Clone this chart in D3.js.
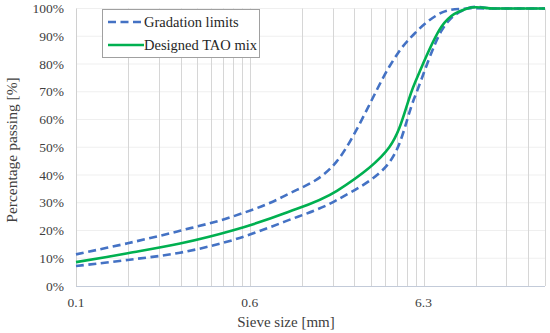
<!DOCTYPE html>
<html>
<head>
<meta charset="utf-8">
<script src="https://cdn.jsdelivr.net/npm/d3@7"></script>
<style>
  body { margin: 0; background: #fff; }
</style>
</head>
<body>
<div id="chart"></div>
<script>
// sieve sizes [mm] and passing [%]
const sieves = [0.063, 0.125, 0.25, 0.5, 1, 2, 4, 5.6, 8, 11.2, 16, 22.4, 31.5];
const upperLimit = [11.4, 15.4, 19.9, 25, 32.5, 45, 79, 91, 98.5, 100, 100, 100, 100];
const lowerLimit = [7.2, 9.4, 12, 16.5, 23.2, 31, 44.5, 68, 92, 100, 100, 100, 100];
const taoMix = [8.6, 11.8, 15.3, 20, 26.2, 34.3, 50, 73, 93.5, 100, 100, 100, 100];

const xTickValues = [0.063, 0.63, 6.3];
const xTickLabels = ["0.1", "0.6", "6.3"];
const yTicks = [0, 10, 20, 30, 40, 50, 60, 70, 80, 90, 100];

const W = 550, H = 333;
const margin = { top: 8.5, right: 5, bottom: 47, left: 76 };
const width = W - margin.left - margin.right;
const height = H - margin.top - margin.bottom;
const serif = "'Liberation Serif', 'Times New Roman', serif";

const svg = d3.select("#chart").append("svg")
  .attr("width", W)
  .attr("height", H)
  .attr("font-family", serif);

const g = svg.append("g")
  .attr("transform", `translate(${margin.left},${margin.top})`);

const x = d3.scaleLog()
  .domain([0.063, 31.5])
  .range([0, 469]);

const y = d3.scaleLinear()
  .domain([0, 100])
  .range([height, 0]);

// horizontal gridlines
g.append("g")
  .selectAll("line")
  .data(yTicks.slice(1))
  .enter().append("line")
  .attr("x1", 0)
  .attr("x2", x(31.5))
  .attr("y1", d => y(d))
  .attr("y2", d => y(d))
  .attr("stroke", "#efefef")
  .attr("stroke-width", 1);

// vertical gridlines (major + minor of each decade)
const gridVals = [];
xTickValues.forEach(b => {
  for (let k = 1; k <= 9; k++) {
    const v = b * k;
    if (v > 0.063 && v <= 31.51) gridVals.push(v);
  }
});

g.append("g")
  .selectAll("line")
  .data(gridVals)
  .enter().append("line")
  .attr("x1", d => Math.round(x(d)) + 0.5)
  .attr("x2", d => Math.round(x(d)) + 0.5)
  .attr("y1", 0)
  .attr("y2", height)
  .attr("stroke", "#d6d6d6")
  .attr("stroke-width", 1);

// axis lines
g.append("line")
  .attr("x1", 0.5).attr("x2", 0.5)
  .attr("y1", 0).attr("y2", height)
  .attr("stroke", "#d0d0d0");

g.append("line")
  .attr("x1", 0).attr("x2", x(31.5))
  .attr("y1", height + 0.5).attr("y2", height + 0.5)
  .attr("stroke", "#c3cbd9")
  .attr("stroke-width", 1.2);

// y tick labels
g.append("g")
  .selectAll("text")
  .data(yTicks)
  .enter().append("text")
  .attr("x", -12)
  .attr("y", d => y(d))
  .attr("dy", "0.35em")
  .attr("text-anchor", "end")
  .attr("fill", "#404040")
  .style("font-size", "13.5px")
  .text(d => d + "%");

// x tick labels
g.append("g")
  .selectAll("text")
  .data(xTickValues)
  .enter().append("text")
  .attr("x", d => x(d))
  .attr("y", height + 21)
  .attr("text-anchor", "middle")
  .attr("fill", "#404040")
  .style("font-size", "13.5px")
  .text((d, i) => xTickLabels[i]);

// curves (smoothed like the spreadsheet lines)
const line = data => d3.line()
  .x((d, i) => x(sieves[i]))
  .y(d => y(d))
  .curve(d3.curveCatmullRom.alpha(0))(data);

const blue = "#4472C4";
const green = "#00B050";

[upperLimit, lowerLimit].forEach(s => {
  g.append("path")
    .attr("d", line(s))
    .attr("fill", "none")
    .attr("stroke", blue)
    .attr("stroke-width", 2.6)
    .attr("stroke-dasharray", "8,4.5");
});

g.append("path")
  .attr("d", line(taoMix))
  .attr("fill", "none")
  .attr("stroke", green)
  .attr("stroke-width", 2.6);

// axis titles
svg.append("text")
  .attr("x", 286)
  .attr("y", 327)
  .attr("text-anchor", "middle")
  .attr("fill", "#404040")
  .style("font-size", "15px")
  .text("Sieve size [mm]");

svg.append("text")
  .attr("transform", "rotate(-90)")
  .attr("x", -150)
  .attr("y", 17)
  .attr("text-anchor", "middle")
  .attr("fill", "#404040")
  .style("font-size", "15.5px")
  .text("Percentage passing [%]");

// legend
const legend = svg.append("g");
legend.append("rect")
  .attr("x", 102.5)
  .attr("y", 9.5)
  .attr("width", 157)
  .attr("height", 48)
  .attr("fill", "#fff")
  .attr("stroke", "#a0a0a0");

const legendItems = [
  { label: "Gradation limits", color: blue, dash: "8,4.5" },
  { label: "Designed TAO mix", color: green, dash: null }
];

legendItems.forEach((d, i) => {
  const yy = 22 + i * 23;
  legend.append("line")
    .attr("x1", 108).attr("x2", 144)
    .attr("y1", yy).attr("y2", yy)
    .attr("stroke", d.color)
    .attr("stroke-width", 2.6)
    .attr("stroke-dasharray", d.dash);
  legend.append("text")
    .attr("x", 144)
    .attr("y", yy + 5)
    .attr("fill", "#262626")
    .style("font-size", "14.5px")
    .text(d.label);
});
</script>
</body>
</html>
